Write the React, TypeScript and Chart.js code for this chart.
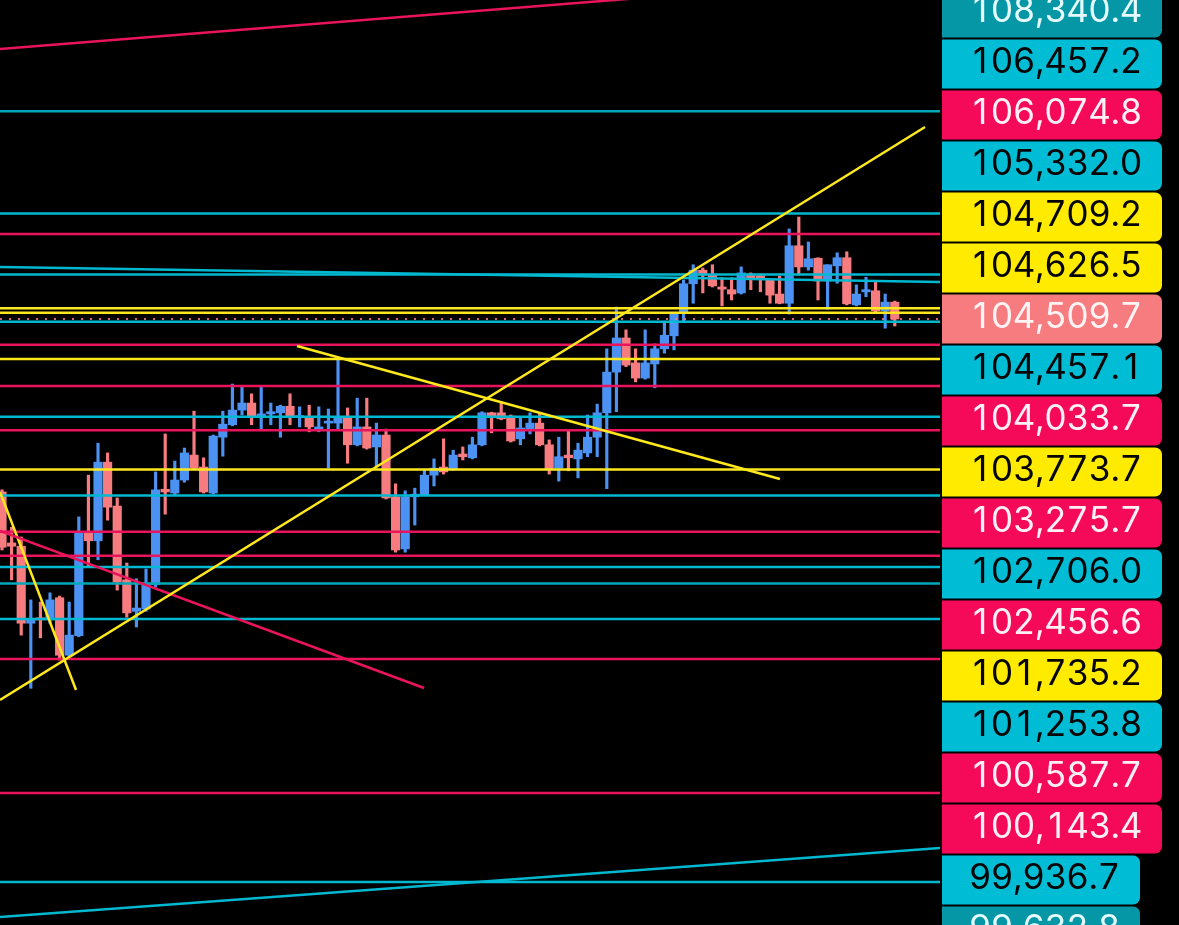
import React, { useEffect, useRef } from "react";
import { Chart, registerables } from "chart.js";

Chart.register(...registerables);

const W = 1179;
const H = 925;
const X_MIN = -0.21;
const X_MAX = 97.71;
const Y_MIN = 93335;
const Y_MAX = 110392;

const opens = [101320,100380,100320,98900,99000,98960,99370,98310,98670,100560,100420,101870,101060,99700,99120,99160,99610,101370,101300,101540,102000,101780,101300,102330,102560,102830,102960,102700,102760,102780,102900,102690,102700,102480,102590,102590,102700,102190,102520,102150,102370,101230,100270,101230,101260,101630,101780,101740,102020,101950,102190,102780,102780,102720,102300,102480,102590,102190,101760,102000,101930,102040,102330,102780,103530,104160,103700,103420,103680,103960,104200,104620,105160,105410,105320,105100,105050,104990,105340,105300,105230,104970,104800,105860,105470,105630,105210,105490,105640,104770,105010,105030,104660,104820];
const highs = [101360,100670,100490,99330,99290,99460,99400,99290,100860,101630,102220,102040,101210,100010,99720,99900,101690,102390,101890,102130,102810,101950,102370,102810,103310,103260,103130,103260,102960,102920,103130,102890,102920,102890,102850,103750,102870,103050,103050,102590,102480,101470,101340,101390,101740,101930,102300,102090,102150,102330,102800,102790,102980,102740,102680,102780,102780,102280,102330,102440,102220,102740,102940,103960,104730,104310,103960,104310,104050,104470,104620,105230,105510,105450,105510,105270,105270,105470,105360,105340,105250,105300,106170,106390,105930,105640,105510,105730,105750,105140,105280,105190,104970,104840];
const lows = [100250,99700,98680,97700,98630,98900,98220,98280,98650,99940,100070,100800,99510,99010,98830,99120,99570,100910,101250,101500,101740,101300,101280,101980,102540,102740,102560,102480,102560,102330,102560,102520,102430,102430,101760,102460,101850,102170,102110,101780,101190,100210,100210,100710,101250,101430,101650,101720,101910,101930,102170,102410,102650,102240,102190,102390,102170,101650,101520,101710,101580,101970,101970,101380,102800,103630,103350,103400,103240,103880,103940,104450,104800,104990,105100,104750,104860,104970,105050,105010,104800,104790,104600,105320,105410,104860,104690,105170,104770,104750,104920,104640,104340,104380];
const closes = [100300,100320,98900,98980,98960,99330,98310,98680,100560,100420,101870,101040,99660,99090,99180,99640,101360,101320,101540,102040,101760,101320,102350,102570,102830,102960,102700,102760,102800,102900,102700,102710,102520,102520,102610,102700,102190,102520,102130,102370,101210,100250,101230,101280,101630,101760,101690,102000,101970,102190,102780,102720,102670,102260,102500,102590,102190,101740,101970,101950,102090,102330,102780,103530,104160,103660,103420,103700,103960,104210,104620,105160,105410,105320,105120,105060,104970,105360,105270,105270,104950,104800,105860,105470,105620,105210,105510,105640,104790,104970,105050,104660,104820,104509.7];

// right-hand price labels (also horizontal levels), highest first
const labelPrices = [108340.4,106457.2,106074.8,105332.0,104709.2,104626.5,104509.7,104457.1,104033.7,103773.7,103275.7,102706.0,102456.6,101735.2,101253.8,100587.7,100143.4,99936.7,99632.8];
const labelKinds = ["teal","cyan","crimson","cyan","yellow","yellow","last","cyan","crimson","yellow","crimson","cyan","crimson","yellow","cyan","crimson","crimson","cyan","teal"];
const LAST_INDEX = 6;

// further horizontal levels without visible labels
const extraLevels = [98978, 98240, 95769, 94128];
const extraKinds = ["cyan","crimson","crimson","cyan"];

// trend lines: start (bar index, price) -> end (bar index, price)
const trendX0 = [-0.21, -0.21, 30.73, -0.21, -0.21, -0.21, -0.21];
const trendY0 = [109490, 97484, 104012, 100600, 101320, 93483, 105469];
const trendX1 = [97.71, 96.15, 81.04, 43.96, 7.71, 97.71, 97.71];
const trendY1 = [110870, 108050, 101559, 97705, 97668, 94755, 105192];
const trendKinds = ["crimson","yellow","yellow","crimson","yellow","cyan","cyan"];

const UP = "#4b92f2";
const DOWN = "#f77c80";
const LINE_COLORS: Record<string,string> = {
  cyan: "#00b8d0",
  teal: "#00a8ba",
  crimson: "#ea145c",
  yellow: "#ffe81c",
  last: "rgba(247,124,128,0.85)",
};
const BOX_COLORS: Record<string,string> = {
  cyan: "#00bcd4",
  teal: "#0597a6",
  crimson: "#f50a5a",
  yellow: "#ffeb00",
  last: "#f77c80",
};
const TEXT_COLORS: Record<string,string> = {
  cyan: "#050505",
  teal: "#e6fbfd",
  crimson: "#fff0f5",
  yellow: "#050505",
  last: "#fff4f4",
};

const fmt = (v: number) =>
  v.toLocaleString("en-US", { minimumFractionDigits: 1, maximumFractionDigits: 1 });

const DIGIT_CELL = 22;
const PUNCT_CELL = 9.5;
const cellW = (ch: string) => (ch === "," || ch === "." ? PUNCT_CELL : DIGIT_CELL);

export default function App() {
  const ref = useRef<HTMLCanvasElement | null>(null);

  useEffect(() => {
    if (!ref.current) return;
    const idx = opens.map((_, i) => i);
    const candleColor = (i: number) => (closes[i] >= opens[i] ? UP : DOWN);

    const lineDatasets: any[] = [];
    labelPrices.forEach((p, i) => {
      const kind = labelKinds[i];
      lineDatasets.push({
        type: "line",
        data: [{ x: X_MIN, y: p }, { x: X_MAX, y: p }],
        borderColor: LINE_COLORS[kind],
        borderWidth: kind === "last" ? 2 : 2.5,
        borderDash: kind === "last" ? [2, 7] : [],
        pointRadius: 0,
        order: 1,
      });
    });
    extraLevels.forEach((p, i) => {
      lineDatasets.push({
        type: "line",
        data: [{ x: X_MIN, y: p }, { x: X_MAX, y: p }],
        borderColor: LINE_COLORS[extraKinds[i]],
        borderWidth: 2.5,
        pointRadius: 0,
        order: 1,
      });
    });
    trendX0.forEach((_, i) => {
      lineDatasets.push({
        type: "line",
        data: [{ x: trendX0[i], y: trendY0[i] }, { x: trendX1[i], y: trendY1[i] }],
        borderColor: LINE_COLORS[trendKinds[i]],
        borderWidth: 2.5,
        pointRadius: 0,
        order: 0,
      });
    });

    const labelPlugin = {
      id: "priceLabels",
      beforeDraw(chart: any) {
        const c = chart.ctx;
        c.save();
        c.fillStyle = "#000";
        c.fillRect(0, 0, chart.width, chart.height);
        c.restore();
      },
      afterDraw(chart: any) {
        const c = chart.ctx;
        const ys = chart.scales.y;
        const area = chart.chartArea;
        const lastY = ys.getPixelForValue(labelPrices[LAST_INDEX]);
        c.save();
        c.font = "35px Inter";
        c.textBaseline = "alphabetic";
        c.textAlign = "center";
        labelPrices.forEach((p, i) => {
          const kind = labelKinds[i];
          const cy = lastY + 51 * (i - LAST_INDEX);
          const text = fmt(p);
          const chars = text.split("");
          const tw = chars.reduce((s, ch) => s + cellW(ch), 0);
          const x0 = area.right + 2;
          c.fillStyle = BOX_COLORS[kind];
          c.beginPath();
          (c as any).roundRect(x0, cy - 24.5, tw + 47, 49, [0, 7, 7, 0]);
          c.fill();
          c.fillStyle = TEXT_COLORS[kind];
          let x = x0 + 27;
          chars.forEach((ch) => {
            const w = cellW(ch);
            c.fillText(ch, x + w / 2, cy + 9.5);
            x += w;
          });
        });
        c.restore();
      },
    };

    const chart = new Chart(ref.current, {
      type: "bar",
      data: {
        datasets: [
          ...lineDatasets,
          {
            type: "bar",
            data: idx.map((i) => ({ x: i, y: [lows[i], highs[i]] })),
            backgroundColor: idx.map(candleColor),
            barThickness: 2.5,
            grouped: false,
            order: 10,
          },
          {
            type: "bar",
            data: idx.map((i) => ({ x: i, y: [opens[i], closes[i]] })),
            backgroundColor: idx.map(candleColor),
            barThickness: 8.5,
            minBarLength: 2,
            grouped: false,
            order: 9,
          },
        ] as any,
      },
      options: {
        responsive: false,
        animation: false,
        devicePixelRatio: 1,
        layout: { padding: { left: 0, right: W - 940, top: 0, bottom: 0 } },
        plugins: { legend: { display: false }, tooltip: { enabled: false } },
        scales: {
          x: { type: "linear", min: X_MIN, max: X_MAX, display: false, offset: false },
          y: { type: "linear", min: Y_MIN, max: Y_MAX, display: false },
        },
      } as any,
      plugins: [labelPlugin],
    });
    return () => chart.destroy();
  }, []);

  return (
    <div style={{ position: "fixed", left: 0, top: 0, width: W, height: H, background: "#000" }}>
      <canvas ref={ref} width={W} height={H} style={{ display: "block" }} />
    </div>
  );
}
